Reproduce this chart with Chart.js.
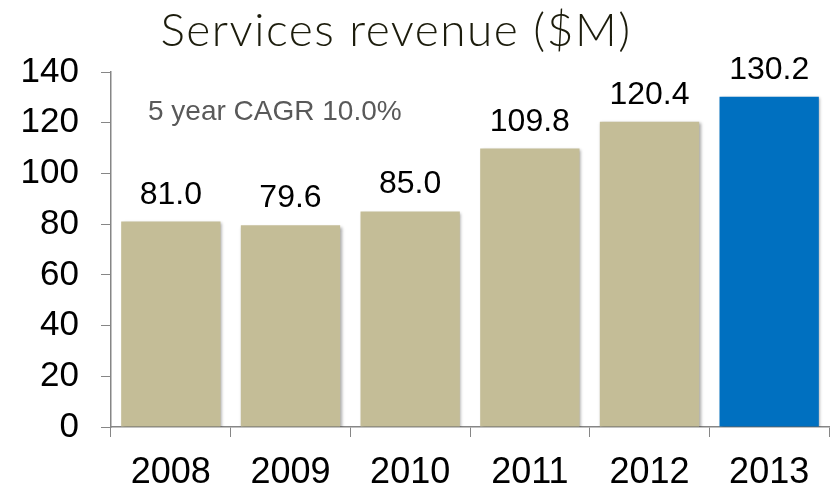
<!DOCTYPE html>
<html>
<head>
<meta charset="utf-8">
<script src="https://cdn.jsdelivr.net/npm/chart.js@4/dist/chart.umd.min.js"></script>
<style>
  html, body { margin: 0; padding: 0; background: #fff; }
  #wrap { width: 831px; height: 489px; position: relative; }
</style>
</head>
<body>
<div id="wrap"><canvas id="rev-chart"></canvas></div>
<script>
// Services revenue by year, $M
const years = ['2008', '2009', '2010', '2011', '2012', '2013'];
const revenue = [81.0, 79.6, 85.0, 109.8, 120.4, 130.2];
const barColors = ['#C4BD97', '#C4BD97', '#C4BD97', '#C4BD97', '#C4BD97', '#0070C0'];
const yTicks = [0, 20, 40, 60, 80, 100, 120, 140];
const chartTitle = 'Services revenue ($M)';
const cagrNote = '5 year CAGR 10.0%';

const AXIS_GRAY = '#868686';
const SANS = "'Liberation Sans', Arial, sans-serif";

// soft drop shadow under the bars
const barShadow = {
  id: 'barShadow',
  beforeDatasetsDraw(chart) {
    const ctx = chart.ctx;
    ctx.save();
    ctx.shadowColor = 'rgba(0, 0, 0, 0.35)';
    ctx.shadowBlur = 3;
    ctx.shadowOffsetX = 1.5;
    ctx.shadowOffsetY = 1.5;
  },
  afterDatasetsDraw(chart) {
    chart.ctx.restore();
  }
};

// value labels above bars, the title and the CAGR note
const textLayer = {
  id: 'textLayer',
  afterDraw(chart) {
    const ctx = chart.ctx;
    const area = chart.chartArea;
    ctx.save();

    ctx.fillStyle = '#000';
    ctx.font = '32px ' + SANS;
    ctx.textAlign = 'center';
    ctx.textBaseline = 'alphabetic';
    chart.getDatasetMeta(0).data.forEach((bar, i) => {
      ctx.fillText(revenue[i].toFixed(1), bar.x, bar.y - 18);
    });

    ctx.fillStyle = '#595959';
    ctx.font = '28px ' + SANS;
    ctx.textAlign = 'left';
    ctx.fillText(cagrNote, area.left + 37, 120);

    ctx.fillStyle = '#1C1C0C';
    ctx.font = "300 46px Lato, 'Open Sans', sans-serif";
    ctx.letterSpacing = '1.5px';
    ctx.textAlign = 'center';
    ctx.fillText(chartTitle, 396, 46);

    ctx.restore();
  }
};

const ctx = document.getElementById('rev-chart');
new Chart(ctx, {
  type: 'bar',
  data: {
    labels: years,
    datasets: [{
      data: revenue,
      backgroundColor: barColors,
      borderWidth: 0,
      barPercentage: 0.83,
      categoryPercentage: 1
    }]
  },
  options: {
    responsive: true,
    maintainAspectRatio: false,
    animation: false,
    layout: { padding: { top: 72, right: 2, left: 0, bottom: 0 } },
    plugins: {
      legend: { display: false },
      tooltip: { enabled: false },
      title: { display: false }
    },
    scales: {
      x: {
        grid: {
          display: true,
          offset: true,
          drawOnChartArea: false,
          tickLength: 10,
          color: AXIS_GRAY
        },
        border: { color: AXIS_GRAY, width: 1.5 },
        ticks: {
          color: '#000',
          padding: 14,
          font: { family: SANS, size: 36 }
        },
        afterFit: s => { s.height = 62; }
      },
      y: {
        min: 0,
        max: 140,
        grid: {
          drawOnChartArea: false,
          tickLength: 10,
          color: AXIS_GRAY
        },
        border: { color: AXIS_GRAY, width: 1.5 },
        ticks: {
          stepSize: 20,
          color: '#000',
          padding: 22,
          font: { family: SANS, size: 35 },
          callback: v => yTicks.includes(v) ? String(v) : ''
        },
        afterFit: s => { s.width = 111; }
      }
    }
  },
  plugins: [barShadow, textLayer]
});
</script>
</body>
</html>
